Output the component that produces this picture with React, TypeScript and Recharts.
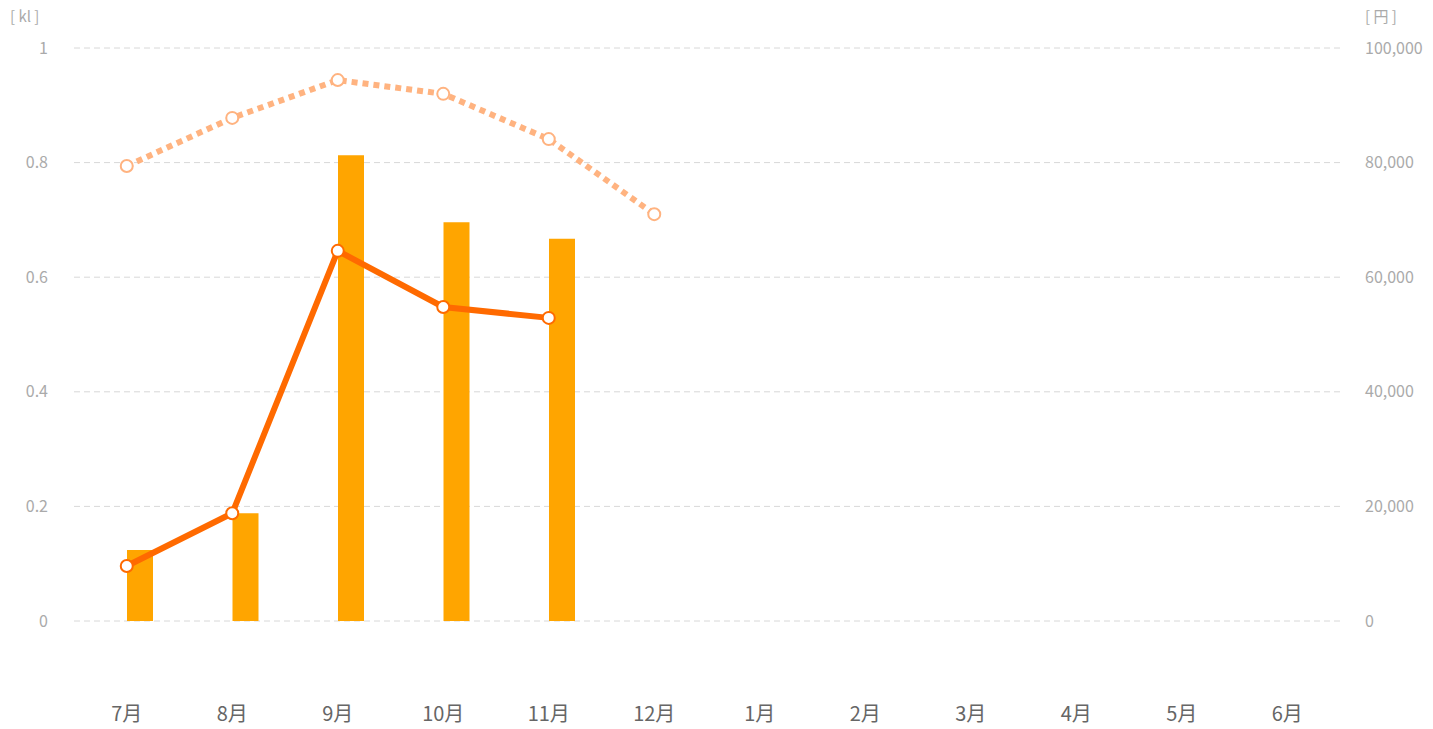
import React from 'react';
import { ComposedChart, Bar, Line, XAxis, YAxis, CartesianGrid } from 'recharts';

const months = ['7月', '8月', '9月', '10月', '11月', '12月', '1月', '2月', '3月', '4月', '5月', '6月'];
const usageKl = [0.124, 0.188, 0.813, 0.696, 0.667, null, null, null, null, null, null, null];
const costYen = [9600, 18800, 64600, 54800, 52900, null, null, null, null, null, null, null];
const prevCostYen = [79400, 87800, 94400, 92000, 84100, 71000, null, null, null, null, null, null];
const leftTicks = [0, 0.2, 0.4, 0.6, 0.8, 1];
const rightTicks = [0, 20000, 40000, 60000, 80000, 100000];

const data = months.map((m, i) => ({
  month: m,
  blank: null,
  usage: usageKl[i],
  cost: costYen[i],
  prevCost: prevCostYen[i],
}));

const font = '"Noto Sans CJK JP", "Noto Sans", sans-serif';
const axisTick = { fill: '#aaa', fontSize: 16, fontFamily: font };

export default function App() {
  return (
    <div style={{ position: 'absolute', left: 0, top: 0, width: 1433, height: 729, fontFamily: font }}>
      <span style={{ position: 'absolute', left: 10, top: 5, fontSize: 15, color: '#aaa', whiteSpace: 'pre' }}>[ kl ]</span>
      <span style={{ position: 'absolute', left: 1365, top: 5, fontSize: 15, color: '#aaa', whiteSpace: 'pre' }}>[ 円 ]</span>
      <ComposedChart
        width={1433}
        height={729}
        data={data}
        margin={{ top: 48, right: 0, bottom: 0, left: 1 }}
        barGap={0}
      >
        <CartesianGrid vertical={false} stroke="#d8d8d8" strokeDasharray="6 4" yAxisId="left" />
        <XAxis
          dataKey="month"
          axisLine={false}
          tickLine={false}
          height={108}
          tickMargin={80}
          tick={{ fill: '#666', fontSize: 20, fontFamily: font }}
        />
        <YAxis
          yAxisId="left"
          orientation="left"
          domain={[0, 1]}
          ticks={leftTicks}
          width={73}
          axisLine={false}
          tickLine={false}
          tickMargin={20}
          tick={axisTick}
        />
        <YAxis
          yAxisId="right"
          orientation="right"
          domain={[0, 100000]}
          ticks={rightTicks}
          width={93}
          axisLine={false}
          tickLine={false}
          tickMargin={19}
          tick={axisTick}
          tickFormatter={(v: number) => v.toLocaleString('en-US')}
        />
        <Bar yAxisId="left" dataKey="blank" barSize={26} fill="transparent" isAnimationActive={false} />
        <Bar yAxisId="left" dataKey="usage" barSize={26} fill="#FFA500" isAnimationActive={false} />
        <Line
          yAxisId="right"
          dataKey="prevCost"
          stroke="#FFB380"
          strokeWidth={6}
          strokeDasharray="6 5"
          dot={{ r: 6, fill: '#fff', stroke: '#FFB380', strokeWidth: 2, strokeDasharray: '' }}
          isAnimationActive={false}
        />
        <Line
          yAxisId="right"
          dataKey="cost"
          stroke="#FF6A00"
          strokeWidth={6}
          dot={{ r: 6, fill: '#fff', stroke: '#FF6A00', strokeWidth: 2 }}
          isAnimationActive={false}
        />
      </ComposedChart>
    </div>
  );
}
